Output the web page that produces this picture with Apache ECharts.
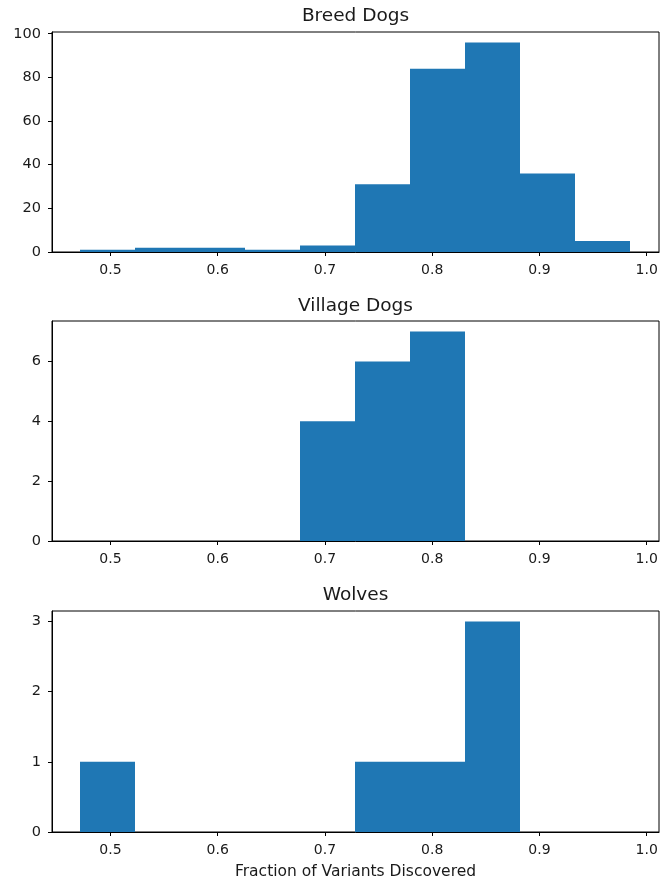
<!DOCTYPE html>
<html>
<head>
<meta charset="utf-8">
<script src="https://cdn.jsdelivr.net/npm/echarts@6/dist/echarts.min.js"></script>
<style>
  html, body { margin: 0; padding: 0; background: #fff; }
  #chart { width: 661px; height: 884px; }
</style>
</head>
<body>
<div id="chart"></div>
<script>
// Shared histogram bin edges (fraction of variants discovered)
const binEdges = [0.4720, 0.5232, 0.5744, 0.6256, 0.6768, 0.7281, 0.7793, 0.8305, 0.8817, 0.9329, 0.9841];

// Counts per bin for each group
const breedCounts   = [1, 2, 2, 1, 3, 31, 84, 96, 36, 5];
const villageCounts = [0, 0, 0, 0, 4, 6, 7, 0, 0, 0];
const wolfCounts    = [1, 0, 0, 0, 0, 1, 1, 3, 0, 0];

const panelTitles = ['Breed Dogs', 'Village Dogs', 'Wolves'];
const xTicks = [0.5, 0.6, 0.7, 0.8, 0.9, 1.0];
const breedTicks   = [0, 20, 40, 60, 80, 100];
const villageTicks = [0, 2, 4, 6];
const wolfTicks    = [0, 1, 2, 3];
const xAxisTitle = 'Fraction of Variants Discovered';

const FONT = '"DejaVu Sans", sans-serif';
const TEXT = '#1a1a1a';
const BAR = '#1f77b4';

const panels = [
  { counts: breedCounts,   ticks: breedTicks,   yMax: 100.8, top: 32,  height: 220 },
  { counts: villageCounts, ticks: villageTicks, yMax: 7.35,  top: 321, height: 220 },
  { counts: wolfCounts,    ticks: wolfTicks,    yMax: 3.15,  top: 611, height: 221 }
];

const gridLeft = 52, gridRight = 2;

// Each row: [bin start, bin end, count]; empty bins draw nothing
function binRows(counts) {
  return counts.map((c, i) => [binEdges[i], binEdges[i + 1], c]);
}

const grids = panels.map(p => ({
  left: gridLeft, right: gridRight, top: p.top, height: p.height,
  show: true, borderColor: '#000', borderWidth: 1, backgroundColor: 'transparent'
}));

const xAxes = panels.map((p, i) => ({
  type: 'value', gridIndex: i, min: 0.4455, max: 1.0115,
  splitLine: { show: false },
  axisLine: { show: true, onZero: false, lineStyle: { color: '#000', width: 1 } },
  axisTick: { show: true, length: 4, customValues: xTicks, lineStyle: { color: '#000' } },
  axisLabel: {
    customValues: xTicks, margin: 11,
    fontFamily: FONT, fontSize: 14, color: TEXT,
    formatter: v => v.toFixed(1)
  },
  name: i === 2 ? xAxisTitle : '',
  nameLocation: 'middle', nameGap: 32,
  nameTextStyle: { fontFamily: FONT, fontSize: 15.5, color: TEXT }
}));

const yAxes = panels.map((p, i) => ({
  type: 'value', gridIndex: i, min: 0, max: p.yMax,
  splitLine: { show: false },
  axisLine: { show: true, lineStyle: { color: '#000', width: 1 } },
  axisTick: { show: true, length: 4, customValues: p.ticks, lineStyle: { color: '#000' } },
  axisLabel: {
    customValues: p.ticks, margin: 11,
    fontFamily: FONT, fontSize: 14.5, color: TEXT
  }
}));

const series = panels.map((p, i) => ({
  type: 'custom', xAxisIndex: i, yAxisIndex: i,
  data: binRows(p.counts),
  encode: { x: [0, 1], y: 2 },
  renderItem: (params, api) => {
    if (!api.value(2)) return null;
    const a = api.coord([api.value(0), api.value(2)]);
    const b = api.coord([api.value(1), 0]);
    // snap horizontal edges so neighbouring bars meet without a seam
    const x0 = Math.round(a[0]), x1 = Math.round(b[0]);
    return {
      type: 'rect',
      shape: { x: x0, y: a[1], width: x1 - x0, height: b[1] - a[1] },
      style: { fill: BAR }
    };
  }
}));

const titleCenters = [15, 305, 594];
const titles = panelTitles.map((t, i) => ({
  text: t,
  left: (gridLeft + (661 - gridRight)) / 2,
  top: titleCenters[i] - 8,
  textAlign: 'center',
  padding: 0,
  textStyle: { fontFamily: FONT, fontSize: 18.5, fontWeight: 'normal', color: TEXT }
}));

const chart = echarts.init(document.getElementById('chart'), null, { renderer: 'canvas' });
chart.setOption({
  animation: false,
  backgroundColor: '#fff',
  title: titles,
  grid: grids,
  xAxis: xAxes,
  yAxis: yAxes,
  series: series
});
</script>
</body>
</html>
